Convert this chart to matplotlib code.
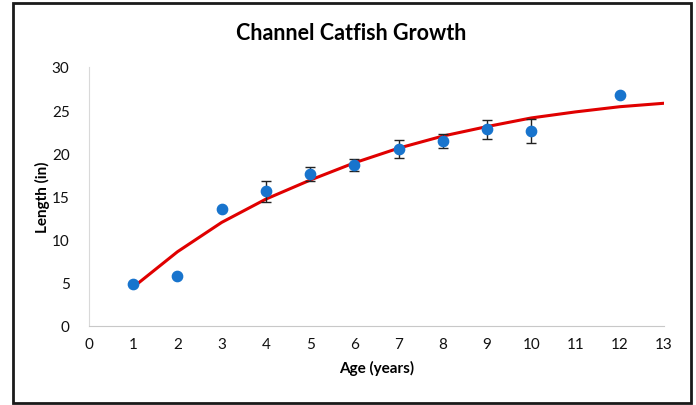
import matplotlib
matplotlib.use("Agg")
from matplotlib import pyplot as plt
from matplotlib.patches import Rectangle

plt.rcParams['font.family'] = ['Lato', 'DejaVu Sans']

# observed mean lengths by age
age = [1, 2, 3, 4, 5, 6, 7, 8, 9, 10, 12]
length = [4.9, 5.8, 13.6, 15.6, 17.6, 18.6, 20.5, 21.4, 22.8, 22.6, 26.8]
err = [0, 0, 0, 1.2, 0.8, 0.7, 1.05, 0.8, 1.1, 1.4, 0]

# fitted growth curve
fit_age = [1, 2, 3, 4, 5, 6, 7, 8, 9, 10, 11, 12, 13]
fit_len = [4.5, 8.6, 12.0, 14.7, 16.9, 18.9, 20.6, 22.0, 23.1, 24.1, 24.8, 25.4, 25.8]

fig = plt.figure(figsize=(6.96, 4.06), dpi=100)
ax = fig.add_axes([89 / 696, 79 / 406, 575 / 696, 259 / 406])

# outer chart border
fig.patches.append(Rectangle((13 / 696, 2 / 406), 678 / 696, 400 / 406,
                             transform=fig.transFigure, fill=False,
                             edgecolor='#1a1a1a', linewidth=2))

ax.plot(fit_age, fit_len, color='#e00000', linewidth=2.2, zorder=2)
for a, l, e in zip(age, length, err):
    if e > 0:
        ax.errorbar(a, l, yerr=e, fmt='none', ecolor='#222222',
                    elinewidth=1, capsize=3.5, capthick=1, zorder=3)
ax.scatter(age, length, s=55, color='#1874cd', zorder=4)

ax.set_xlim(0, 13)
ax.set_ylim(0, 30)
ax.set_xticks(range(0, 14))
ax.set_yticks(range(0, 31, 5))
ax.tick_params(length=0, labelsize=11, colors='#111111', pad=8)
ax.tick_params(axis='y', pad=14)

for s in ['top', 'right']:
    ax.spines[s].set_visible(False)
ax.spines['left'].set_color('#d9d9d9')
ax.spines['bottom'].set_color('#c8c8c8')

fig.text(351 / 696, 373 / 406, 'Channel Catfish Growth', fontsize=15.5,
         fontweight='bold', ha='center', va='center')
ax.set_xlabel('Age (years)', fontsize=11, fontweight='bold', labelpad=6)
ax.set_ylabel('Length (in)', fontsize=11, fontweight='bold', labelpad=1)

fig.savefig('out.png', dpi=100)
